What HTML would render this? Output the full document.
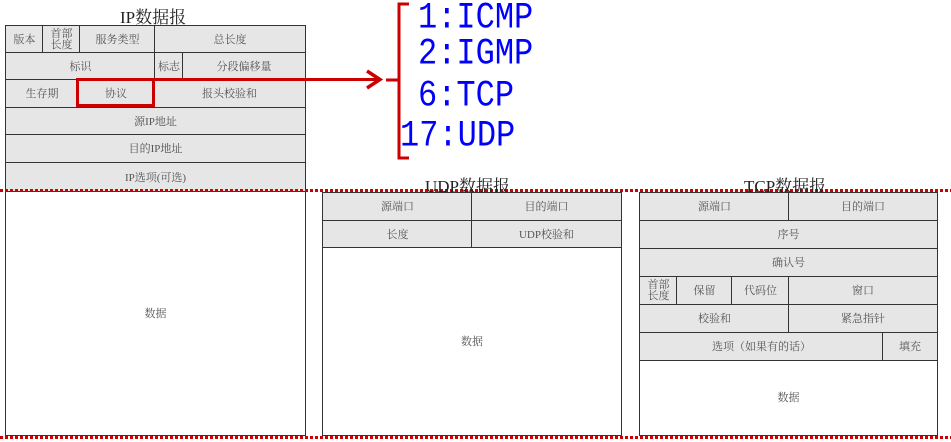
<!DOCTYPE html>
<html><head><meta charset="utf-8"><style>
*{margin:0;padding:0;box-sizing:border-box}
body{width:951px;height:442px;background:#fff;position:relative;overflow:hidden;font-family:"Liberation Serif","Noto Serif CJK SC",serif}
.c{position:absolute;background:#e6e6e6;border:1.5px solid #333;color:#555;font-size:11px;display:flex;align-items:center;justify-content:center;text-align:center;line-height:12px}
.w{background:#fff}
.t{position:absolute;font-size:17px;color:#222;white-space:nowrap}
.dot{position:absolute;left:0;width:951px;height:3px;background:repeating-linear-gradient(90deg,#c00 0 3px,transparent 3px 5px)}
.b{position:absolute;font-family:"Liberation Mono",monospace;font-size:32px;color:#00f;line-height:32px;transform:scaleY(1.15);transform-origin:0 26px;white-space:pre}
.r{position:absolute;background:#c00}
</style></head><body>
<div class="t" style="left:120px;top:3px">IP数据报</div>
<div class="c" style="left:5px;top:25px;width:39px;height:29px">版本</div>
<div class="c" style="left:42px;top:25px;width:39px;height:29px;line-height:11px">首部<br>长度</div>
<div class="c" style="left:79px;top:25px;width:77px;height:29px">服务类型</div>
<div class="c" style="left:154px;top:25px;width:152px;height:29px">总长度</div>
<div class="c" style="left:5px;top:52px;width:151px;height:29px">标识</div>
<div class="c" style="left:154px;top:52px;width:30px;height:29px">标志</div>
<div class="c" style="left:182px;top:52px;width:124px;height:29px">分段偏移量</div>
<div class="c" style="left:5px;top:79px;width:74px;height:30px">生存期</div>
<div class="c" style="left:77px;top:79px;width:78px;height:30px">协议</div>
<div class="c" style="left:153px;top:79px;width:153px;height:30px">报头校验和</div>
<div class="c" style="left:5px;top:107px;width:301px;height:29px">源IP地址</div>
<div class="c" style="left:5px;top:134px;width:301px;height:30px">目的IP地址</div>
<div class="c" style="left:5px;top:162px;width:301px;height:31px">IP选项(可选)</div>
<div class="c w" style="left:5px;top:191px;width:301px;height:245px">数据</div>
<div style="position:absolute;left:76px;top:78px;width:79px;height:29px;border:3px solid #c00"></div>
<div class="r" style="left:153px;top:78px;width:227px;height:3px"></div>
<svg style="position:absolute;left:0;top:0" width="951" height="442"><polyline points="367,71 380,79.5 367,88" fill="none" stroke="#c00" stroke-width="3.5"/>
<path d="M409,4 H399 V158 H409 M386,80 H399" fill="none" stroke="#c00" stroke-width="3"/></svg>
<div class="b" style="left:418px;top:4px">1:ICMP</div>
<div class="b" style="left:418px;top:40px">2:IGMP</div>
<div class="b" style="left:418px;top:82px">6:TCP</div>
<div class="b" style="left:400px;top:122px">17:UDP</div>
<div class="dot" style="top:189px"></div>
<div class="t" style="left:425px;top:172px">UDP数据报</div>
<div class="c" style="left:322px;top:192px;width:151px;height:30px">源端口</div>
<div class="c" style="left:471px;top:192px;width:151px;height:30px">目的端口</div>
<div class="c" style="left:322px;top:220px;width:151px;height:29px">长度</div>
<div class="c" style="left:471px;top:220px;width:151px;height:29px">UDP校验和</div>
<div class="c w" style="left:322px;top:247px;width:300px;height:189px">数据</div>
<div class="t" style="left:744px;top:172px">TCP数据报</div>
<div class="c" style="left:639px;top:192px;width:151px;height:30px">源端口</div>
<div class="c" style="left:788px;top:192px;width:150px;height:30px">目的端口</div>
<div class="c" style="left:639px;top:220px;width:299px;height:30px">序号</div>
<div class="c" style="left:639px;top:248px;width:299px;height:30px">确认号</div>
<div class="c" style="left:639px;top:276px;width:39px;height:30px;line-height:11px">首部<br>长度</div>
<div class="c" style="left:676px;top:276px;width:57px;height:30px">保留</div>
<div class="c" style="left:731px;top:276px;width:59px;height:30px">代码位</div>
<div class="c" style="left:788px;top:276px;width:150px;height:30px">窗口</div>
<div class="c" style="left:639px;top:304px;width:151px;height:30px">校验和</div>
<div class="c" style="left:788px;top:304px;width:150px;height:30px">紧急指针</div>
<div class="c" style="left:639px;top:332px;width:245px;height:30px">选项（如果有的话）</div>
<div class="c" style="left:882px;top:332px;width:56px;height:30px">填充</div>
<div class="c w" style="left:639px;top:360px;width:299px;height:76px">数据</div>
<div class="dot" style="top:436px"></div>
</body></html>
